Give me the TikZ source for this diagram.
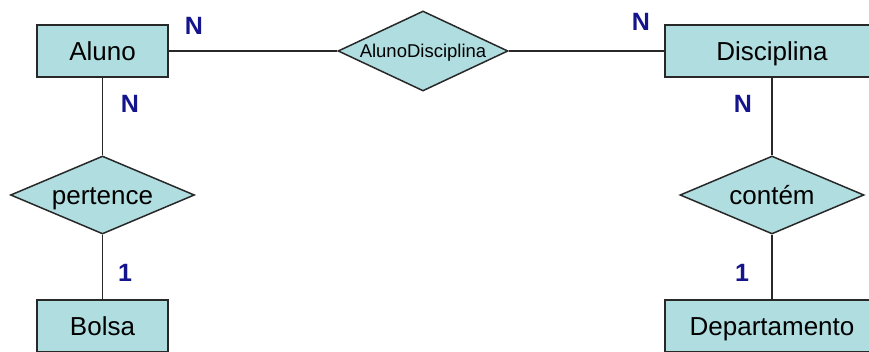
\documentclass[tikz,border=0pt]{standalone}
\usepackage{fontspec}
\setmainfont{Liberation Sans}
\usetikzlibrary{shapes.geometric}
\definecolor{erfill}{RGB}{176,221,224}
\definecolor{erline}{RGB}{40,40,40}
\definecolor{cardblue}{RGB}{20,20,140}
\begin{document}
\begin{tikzpicture}[x=1pt,y=-1pt,
  entity/.style={draw=erline, line width=1.5pt, fill=erfill, rectangle,
    minimum height=52pt, inner sep=0pt, text height=18.6pt, text depth=0pt,
    font=\fontsize{26}{30}\selectfont},
  relation/.style={draw=erline, line width=1.5pt, fill=erfill, diamond,
    inner sep=0pt},
  reltext/.style={inner sep=0pt, text height=18.6pt, text depth=0pt,
    font=\fontsize{26}{30}\selectfont},
  smalltext/.style={inner sep=0pt, text height=13.2pt, text depth=0pt,
    font=\fontsize{18.5}{22}\selectfont},
  card/.style={text=cardblue, inner sep=0pt, text height=17.9pt, text depth=0pt,
    font=\bfseries\fontsize{25}{28}\selectfont},
  link/.style={draw=erline, line width=1.5pt}]
\useasboundingbox (0,0) rectangle (869,352);
\clip (0,0) rectangle (869,352);

% entities
\node[entity, minimum width=131pt] (aluno) at (102.5,51) {Aluno};
\node[entity, minimum width=214pt] (disc) at (772,51) {Disciplina};
\node[entity, minimum width=131pt] (bolsa) at (102.5,326) {Bolsa};
\node[entity, minimum width=214pt] (dep) at (772,326) {Departamento};

% relationships
\node[relation, minimum width=170pt, minimum height=80pt] (ad) at (423,51) {};
\node[smalltext] (adt) at (ad.center) {AlunoDisciplina};
\node[relation, minimum width=184pt, minimum height=78pt] (pert) at (102.5,195) {};
\node[reltext] (pertt) at (pert.center) {pertence};
\node[relation, minimum width=184pt, minimum height=78pt] (cont) at (772,195) {};
\node[reltext] (contt) at (cont.center) {contém};

% connectors
\draw[link] (aluno.east) -- (ad.west);
\draw[link] (ad.east) -- (disc.west);
\draw[link] (aluno.south) -- (pert.north);
\draw[link] (pert.south) -- (bolsa.north);
\draw[link] (disc.south) -- (cont.north);
\draw[link] (cont.south) -- (dep.north);

% cardinalities
\node[card] (c1) at (194,26) {N};
\node[card] (c2) at (641,22) {N};
\node[card] (c3) at (130,104) {N};
\node[card] (c4) at (743,104) {N};
\node[card] (c5) at (125,273) {1};
\node[card] (c6) at (742,273) {1};
\end{tikzpicture}
\end{document}
